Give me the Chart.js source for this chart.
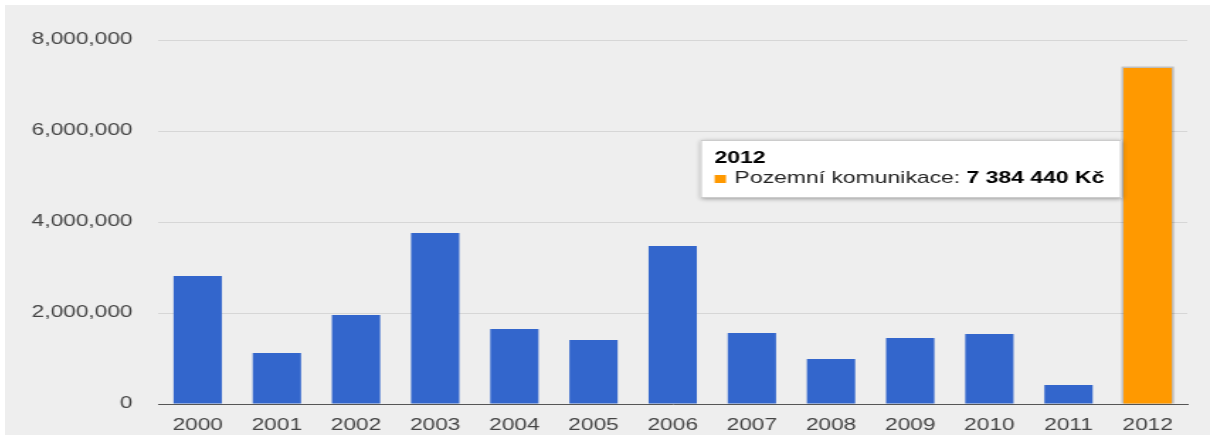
<!DOCTYPE html>
<html>
<head>
<meta charset="utf-8">
<script src="https://cdn.jsdelivr.net/npm/chart.js@4"></script>
<style>
    body { margin: 0; background: #ffffff; }
    #frame {
        position: absolute; left: 5px; top: 5px;
        width: 1205px; height: 430px;
        background: #eeeeee; overflow: hidden;
    }
    #stretch {
        position: absolute; left: 0; top: 0;
        width: 850px; height: 430px;
        transform: scale(1.4176, 1);
        transform-origin: 0 0;
    }
</style>
</head>
<body>
<div id="frame">
    <div id="stretch">
        <canvas id="chart" width="850" height="430"></canvas>
    </div>
</div>
<script>
// Chart data
const years = ['2000', '2001', '2002', '2003', '2004', '2005', '2006',
               '2007', '2008', '2009', '2010', '2011', '2012'];
const amounts = [2813000, 1121000, 1956000, 3758000, 1648000, 1407000, 3473000,
                 1560000, 989000, 1451000, 1538000, 418000, 7384440];
const yTicks = [0, 2000000, 4000000, 6000000, 8000000];
const seriesName = 'Pozemní komunikace';
const activeIndex = 12;

const FONT = '"Liberation Sans", Arial, sans-serif';

// Czech style number: 7 384 440 Kč
function formatCzk(v) {
    return String(Math.round(v)).replace(/\B(?=(\d{3})+(?!\d))/g, ' ') + ' Kč';
}

// Hover highlight + tooltip drawn for the active bar
const activeTooltip = {
    id: 'activeTooltip',
    beforeDatasetsDraw(chart) {
        const bar = chart.getDatasetMeta(0).data[activeIndex];
        if (!bar) return;
        const ctx = chart.ctx;
        const w = bar.width;
        ctx.save();
        ctx.fillStyle = 'rgba(0,0,0,0.18)';
        ctx.shadowColor = 'rgba(0,0,0,0.35)';
        ctx.shadowBlur = 3;
        ctx.fillRect(bar.x - w / 2 - 1.5, bar.y - 1.5, w + 3, bar.base - bar.y + 1.5);
        ctx.restore();
    },
    afterDatasetsDraw(chart) {
        const bar = chart.getDatasetMeta(0).data[activeIndex];
        if (!bar) return;
        const ctx = chart.ctx;
        const label = seriesName + ': ';
        const value = formatCzk(amounts[activeIndex]);

        ctx.save();
        ctx.font = '16.2px ' + FONT;
        const wLabel = ctx.measureText(label).width;
        ctx.font = 'bold 16.2px ' + FONT;
        const wValue = ctx.measureText(value).width;

        const padL = 10, padR = 12, sq = 8, gap = 6;
        const boxW = padL + sq + gap + wLabel + wValue + padR;
        const boxH = 58;
        const right = bar.x - bar.width / 2 - 1.5;
        const left = right - boxW;
        const top = chart.chartArea.top + 100;

        ctx.shadowColor = 'rgba(0,0,0,0.35)';
        ctx.shadowBlur = 4;
        ctx.shadowOffsetY = 1;
        ctx.fillStyle = '#ffffff';
        ctx.fillRect(left, top, boxW, boxH);
        ctx.shadowColor = 'transparent';
        ctx.strokeStyle = '#cccccc';
        ctx.lineWidth = 1;
        ctx.strokeRect(left + 0.5, top + 0.5, boxW - 1, boxH - 1);

        ctx.textBaseline = 'alphabetic';
        ctx.textAlign = 'left';
        ctx.fillStyle = '#000000';
        ctx.font = 'bold 16.2px ' + FONT;
        ctx.fillText(years[activeIndex], left + padL, top + 23);

        ctx.fillStyle = '#ff9900';
        ctx.fillRect(left + padL, top + 35, sq, sq);

        ctx.fillStyle = '#222222';
        ctx.font = '16.2px ' + FONT;
        ctx.fillText(label, left + padL + sq + gap, top + 43);
        ctx.fillStyle = '#000000';
        ctx.font = 'bold 16.2px ' + FONT;
        ctx.fillText(value, left + padL + sq + gap + wLabel, top + 43);
        ctx.restore();
    }
};

const barColors = amounts.map((v, i) => i === activeIndex ? '#ff9900' : '#3366cc');

new Chart(document.getElementById('chart'), {
    type: 'bar',
    data: {
        labels: years,
        datasets: [{
            label: seriesName,
            data: amounts,
            backgroundColor: barColors,
            borderWidth: 0,
            categoryPercentage: 1.0,
            barPercentage: 0.61
        }]
    },
    options: {
        responsive: false,
        devicePixelRatio: 1,
        animation: false,
        events: [],
        layout: { padding: { top: 35, right: 16, bottom: 0, left: 0 } },
        plugins: {
            legend: { display: false },
            tooltip: { enabled: false }
        },
        scales: {
            x: {
                grid: { display: false, drawTicks: false },
                border: { display: true, color: '#555555', width: 1 },
                ticks: {
                    color: '#444444',
                    padding: 12,
                    maxRotation: 0,
                    font: { family: FONT, size: 16 }
                },
                afterFit(scale) { scale.height = 31; }
            },
            y: {
                min: 0,
                max: 8000000,
                afterBuildTicks(scale) {
                    scale.ticks = yTicks.map(v => ({ value: v }));
                },
                grid: { color: '#d6d6d6', drawTicks: false, lineWidth: 1 },
                border: { display: false },
                ticks: {
                    color: '#444444',
                    padding: 18,
                    font: { family: FONT, size: 16 },
                    callback: v => v.toLocaleString('en-US')
                },
                afterFit(scale) { scale.width = 108; }
            }
        }
    },
    plugins: [activeTooltip]
});
</script>
</body>
</html>
